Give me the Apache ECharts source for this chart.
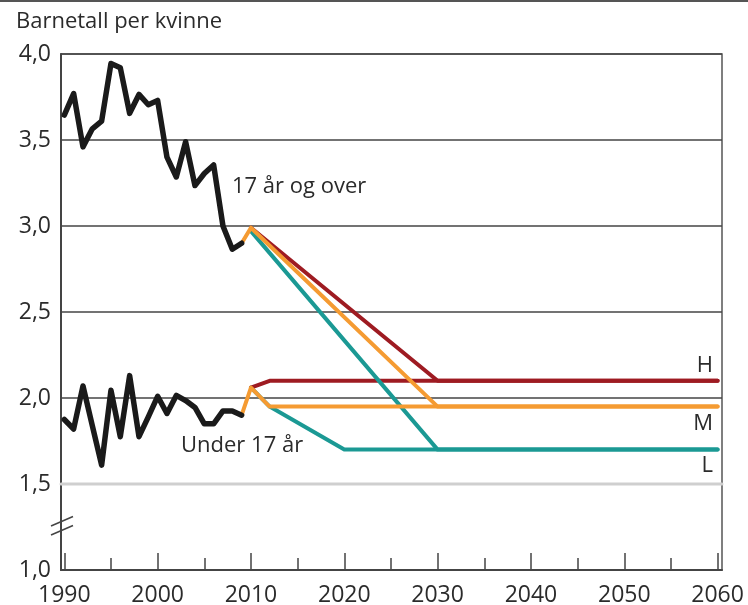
<!DOCTYPE html>
<html>
<head>
<meta charset="utf-8">
<script src="https://cdn.jsdelivr.net/npm/echarts@6/dist/echarts.min.js"></script>
<style>
html,body{margin:0;padding:0;background:#fff;}
#chart{width:748px;height:605px;}
</style>
</head>
<body>
<div id="chart"></div>
<script>
// ---- data ----
var histYears = [1990,1991,1992,1993,1994,1995,1996,1997,1998,1999,2000,2001,2002,2003,2004,2005,2006,2007,2008,2009];
var over17 = [3.645,3.77,3.46,3.565,3.61,3.945,3.92,3.655,3.765,3.705,3.73,3.40,3.285,3.49,3.235,3.305,3.355,3.0,2.865,2.90];
var under17 = [1.875,1.82,2.07,1.84,1.61,2.045,1.775,2.13,1.775,1.89,2.01,1.91,2.015,1.985,1.945,1.85,1.85,1.925,1.925,1.90];

var hOverYears = [2010,2030,2060];
var hOverVals  = [2.99,2.10,2.10];
var mOverYears = [2009,2010,2030,2060];
var mOverVals  = [2.90,2.99,1.95,1.95];
var lOverYears = [2010,2030,2060];
var lOverVals  = [2.97,1.70,1.70];

var hUnderYears = [2010,2012,2060];
var hUnderVals  = [2.06,2.10,2.10];
var mUnderYears = [2009,2010,2012,2060];
var mUnderVals  = [1.90,2.06,1.95,1.95];
var lUnderYears = [2010,2012,2020,2060];
var lUnderVals  = [2.06,1.95,1.70,1.70];

var majorTicks = [1990,2000,2010,2020,2030,2040,2050,2060];
var minorTicks = [1995,2005,2015,2025,2035,2045,2055];

var yTitle = 'Barnetall per kvinne';
var labelOver = '17 år og over';
var labelUnder = 'Under 17 år';
var scenarioNames = ['H','M','L'];

// ---- helpers ----
function pairs(xs, ys){ return xs.map(function(x,i){ return [x, ys[i]]; }); }
var FONT = '"Open Sans", "Noto Sans", sans-serif';
var TXT = '#2b2b2b';
var cH = '#9e1b22', cM = '#f59b32', cL = '#1b9994', cK = '#1a1a1a';
var XMIN = 1989.646, XMAX = 2060.47;

function line(data, color, width, z){
  return {type:'line', data:data, symbol:'none', smooth:false, z:z,
    lineStyle:{color:color, width:width, join:'round', cap:'round'},
    emphasis:{disabled:true}, silent:true};
}
function txt(s, x, y, align){
  return {type:'text', x:x, y:y, style:{text:s, font:'22px '+FONT, fill:TXT, align:align||'left', verticalAlign:'middle'}};
}

var chart = echarts.init(document.getElementById('chart'), null, {renderer:'canvas'});
var option = {
  animation:false,
  grid:{left:61, right:26, top:54, bottom:35, show:true, borderColor:'#555', borderWidth:1.5,
        backgroundColor:'transparent', containLabel:false, outerBoundsMode:'none'},
  xAxis:[{
    type:'value', min:XMIN, max:XMAX,
    axisLine:{show:true, lineStyle:{color:'#444', width:2}},
    axisTick:{show:true, inside:true, length:17, customValues:majorTicks, lineStyle:{color:'#444', width:1.5}},
    axisLabel:{show:true, customValues:majorTicks, margin:14, fontFamily:FONT, fontSize:23, color:TXT,
      formatter:function(v){ return String(Math.round(v)); }},
    splitLine:{show:false}
  },{
    type:'value', min:XMIN, max:XMAX, position:'bottom',
    axisLine:{show:false},
    axisTick:{show:true, inside:true, length:12, customValues:minorTicks, lineStyle:{color:'#444', width:1.5}},
    axisLabel:{show:false}, splitLine:{show:false}
  }],
  yAxis:{
    type:'value', min:1.0, max:4.0, interval:0.5,
    axisLine:{show:true, lineStyle:{color:'#444', width:2}},
    axisTick:{show:false},
    axisLabel:{margin:10, fontFamily:FONT, fontSize:23, color:TXT,
      formatter:function(v){ return v.toFixed(1).replace('.', ','); }},
    splitLine:{show:true, lineStyle:{width:1.5, color:['transparent','transparent','#444','#444','#444','#444','#444']}}
  },
  series:[
    line([[XMIN,1.5],[XMAX,1.5]], '#cfcfcf', 3, 1),
    line(pairs(lUnderYears, lUnderVals), cL, 4, 3),
    line(pairs(hUnderYears, hUnderVals), cH, 4, 3),
    line(pairs(mUnderYears, mUnderVals), cM, 4, 4),
    line(pairs(lOverYears, lOverVals), cL, 4, 3),
    line(pairs(hOverYears, hOverVals), cH, 4, 3),
    line(pairs(mOverYears, mOverVals), cM, 4, 4),
    line(pairs(histYears, over17), cK, 5.5, 5),
    line(pairs(histYears, under17), cK, 5.5, 5)
  ],
  graphic:[
    {type:'line', shape:{x1:0,y1:1,x2:748,y2:1}, style:{stroke:'#555', lineWidth:2}},
    txt(yTitle, 16, 22),
    txt(labelOver, 232, 187),
    txt(labelUnder, 181, 446),
    txt(scenarioNames[0], 713, 366, 'right'),
    txt(scenarioNames[1], 713, 424, 'right'),
    txt(scenarioNames[2], 713, 466, 'right'),
    {type:'line', shape:{x1:51,y1:526,x2:73,y2:516.5}, style:{stroke:'#444', lineWidth:1.5}},
    {type:'line', shape:{x1:51,y1:535,x2:73,y2:525.5}, style:{stroke:'#444', lineWidth:1.5}}
  ]
};
chart.setOption(option);
</script>
</body>
</html>
